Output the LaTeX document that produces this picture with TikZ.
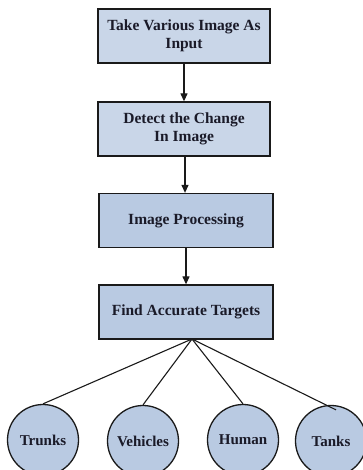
\documentclass[tikz,border=0pt]{standalone}
\usepackage{fontspec}
\setmainfont{Liberation Serif}
\usetikzlibrary{arrows.meta}
\definecolor{lightbox}{HTML}{C9D6E8}
\definecolor{midbox}{HTML}{B9CAE2}
\definecolor{edgecol}{HTML}{1A1A1A}
\definecolor{txtcol}{HTML}{1A1A28}
\begin{document}
\begin{tikzpicture}[x=1pt,y=-1pt,
  box/.style={draw=edgecol, line width=1.3pt, minimum width=172pt, minimum height=54pt, inner sep=0pt, align=center, font=\fontsize{15.5}{18.5}\selectfont\bfseries, text=txtcol},
  target/.style={circle, draw=edgecol, line width=1.3pt, fill=midbox, minimum size=71pt, inner sep=0pt, font=\fontsize{15}{17}\selectfont\bfseries, text=txtcol},
  arr/.style={-{Triangle[length=8pt,width=7pt]}, line width=1.2pt, draw=edgecol},
  link/.style={line width=1.1pt, draw=edgecol}]
\clip (0,0) rectangle (363,470);
\useasboundingbox (0,0) rectangle (363,470);
\fill[white] (0,0) rectangle (363,470);
\node[box, fill=lightbox] (b1) at (184,36) {Take Various Image As\\Input};
\node[box, fill=lightbox] (b2) at (184,129) {Detect the Change\\In Image};
\node[box, fill=midbox, minimum width=174pt] (b3) at (186,220.5) {Image Processing};
\node[box, fill=midbox, minimum width=174pt] (b4) at (186,312) {Find Accurate Targets};
\node[target] (t1) at (43,440) {Trunks};
\node[target] (t2) at (143,441) {Vehicles};
\node[target] (t3) at (243,440) {Human};
\node[target] (t4) at (331,441) {Tanks};
\coordinate (hub) at (192,339);
\draw[arr] (b1.south) -- (b1.south |- b2.north);
\draw[arr] ([xshift=1pt]b2.south) -- ([xshift=1pt]b2.south |- b3.north);
\draw[arr] (b3.south) -- (b3.south |- b4.north);
\draw[link] (hub) -- (t1.north);
\draw[link] (hub) -- (t2.north);
\draw[link] (hub) -- (t3.north);
\draw[link] (hub) -- ([xshift=5pt,yshift=-5pt]t4.north);
\end{tikzpicture}
\end{document}
